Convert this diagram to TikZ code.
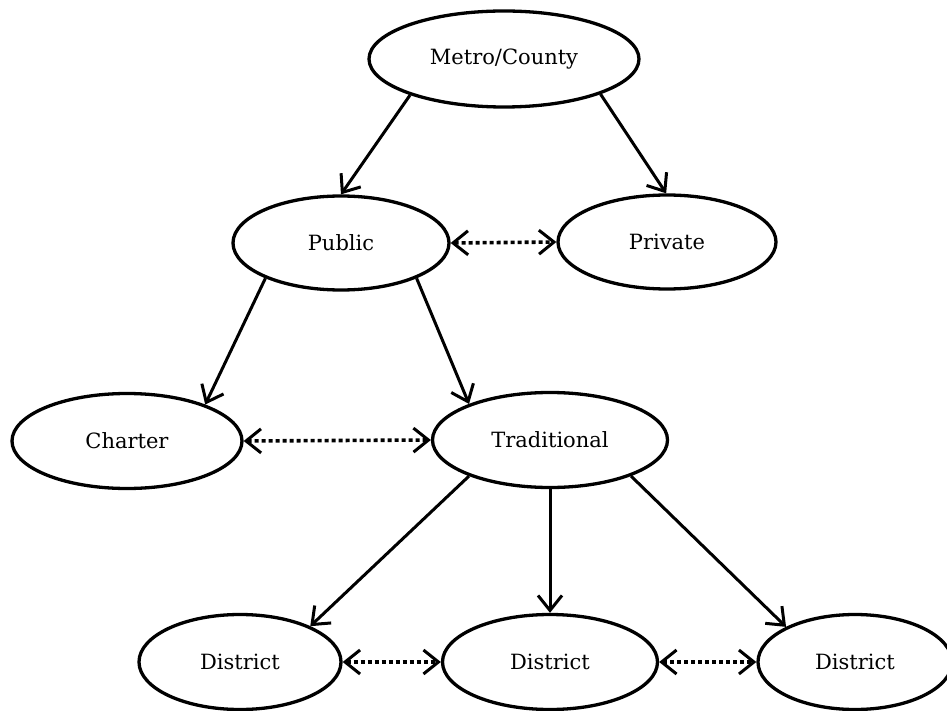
\documentclass[tikz,border=0pt]{standalone}
\usepackage{fontspec}
\setmainfont{DejaVu Serif}
\usetikzlibrary{shapes.geometric,arrows.meta}
\begin{document}
\begin{tikzpicture}[x=1pt,y=-1pt,
  oval/.style={ellipse,draw,line width=3.3pt,inner sep=0pt,font=\fontsize{21}{25}\selectfont},
  solidarrow/.style={line width=3pt,-{Straight Barb[length=15pt,width=24pt,line width=3pt]}},
  duoarrow/.style={line width=3.6pt,dash pattern=on 4pt off 3pt,{Straight Barb[length=15pt,width=24pt,line width=3pt]}-{Straight Barb[length=15pt,width=24pt,line width=3pt]}}]
\useasboundingbox (0,0) rectangle (947,711);
\begin{scope}
\clip (0,0) rectangle (947,711);
\node[oval,minimum width=270pt,minimum height=96pt] (mc) at (504,59) {Metro/County};
\node[oval,minimum width=216pt,minimum height=94pt] (pub) at (341,243) {Public};
\node[oval,minimum width=218pt,minimum height=94pt] (pri) at (667,242) {Private};
\node[oval,minimum width=230pt,minimum height=95pt] (cha) at (127,441) {Charter};
\node[oval,minimum width=235pt,minimum height=95pt] (tra) at (550,440) {Traditional};
\node[oval,minimum width=202pt,minimum height=95pt] (d1) at (240,662) {District};
\node[oval,minimum width=215pt,minimum height=95pt] (d2) at (550,662) {District};
\node[oval,minimum width=194pt,minimum height=95pt] (d3) at (855,662) {District};
\end{scope}
\draw[solidarrow] (mc.201) -- (pub.90);
\draw[solidarrow] (mc.340) -- (pri.91);
\draw[solidarrow] (pub.205) -- (cha.25);
\draw[solidarrow] (pub.335) -- (tra.156);
\draw[solidarrow] (tra.204) -- (d1.27);
\draw[solidarrow] (tra.south) -- (d2.north);
\draw[solidarrow] (tra.336) -- (d3.153);
\draw[duoarrow] (pub.east) -- (pri.west);
\draw[duoarrow] (cha.east) -- (tra.west);
\draw[duoarrow] (d1.east) -- (d2.west);
\draw[duoarrow] (d2.east) -- (d3.west);
\end{tikzpicture}
\end{document}
